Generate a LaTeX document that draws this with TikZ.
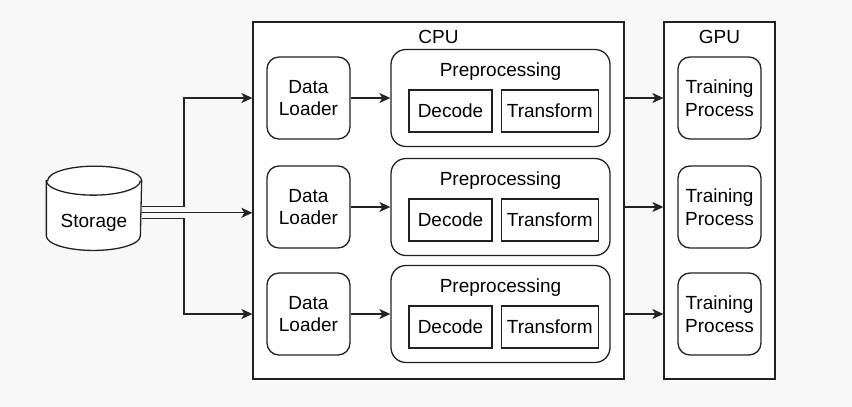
\documentclass[tikz,border=0pt]{standalone}
\usepackage{fontspec}
\setmainfont{Liberation Sans}
\usetikzlibrary{arrows.meta,positioning}
\definecolor{pagebg}{RGB}{248,248,248}
\definecolor{linecol}{RGB}{34,34,34}
\tikzset{>={Stealth[length=11pt,width=10pt,inset=3pt]},
  box/.style={draw=linecol, fill=white, align=center, inner sep=0pt},
  unit/.style={box, rounded corners=12pt, minimum width=83pt, minimum height=82pt},
  stage/.style={box, minimum height=42pt},
  group/.style={box, minimum height=357pt},
  lbl/.style={inner sep=0pt, text height=13.6pt, text depth=0pt},
  cyl/.style={draw=linecol, fill=white}}

\begin{document}
\begin{tikzpicture}[x=1pt, y=-1pt, line width=1.3pt,
    font=\fontsize{19}{22.5}\selectfont]
  \fill[pagebg] (0,0) rectangle (852,407);
  % CPU and GPU
  \node[group, minimum width=371pt] (cpu) at (438.5,200.5) {};
  \node[group, minimum width=111pt] (gpu) at (719.5,200.5) {};
  \node[lbl, below=8pt of cpu.north] (cpulbl) {CPU};
  \node[lbl, below=8pt of gpu.north] (gpulbl) {GPU};
  % rows
  \foreach \r/\y in {1/98,2/207,3/314}{
    \node[unit] (load\r) at (308.5,\y) {Data\\Loader};
    \node[box, rounded corners=15pt, minimum width=219pt,
      minimum height=97pt] (prep\r) at (500.5,\y) {};
    \node[lbl] (preplbl\r) at (500.5,\y-28) {Preprocessing};
    \node[stage, minimum width=83pt] (dec\r) at (450.5,\y+13) {Decode};
    \node[stage, minimum width=97pt, right=8pt of dec\r] (trans\r) {Transform};
    \node[unit] (train\r) at (719.5,\y) {Training\\Process};
    \draw[->, draw=linecol] (load\r) -- (prep\r);
    \draw[->, draw=linecol] (cpu.east |- prep\r) -- (gpu.west |- prep\r);
  }
  % storage
  \node[minimum width=94pt, minimum height=83pt, inner sep=0pt] (store) at (94,208.3) {};
  \draw[cyl] ([yshift=-14.5pt]store.north west) -- ([yshift=14.5pt]store.south west)
    arc[start angle=180, end angle=0, x radius=47, y radius=14.5]
    -- ([yshift=-14.5pt]store.north east)
    arc[start angle=0, end angle=-180, x radius=47, y radius=14.5] -- cycle;
  \draw[linecol] ([yshift=-14.5pt]store.north west)
    arc[start angle=180, end angle=0, x radius=47, y radius=14.5];
  \node[lbl] (storelbl) at (94,221) {Storage};
  \coordinate (split) at (184,208);
  \draw[->, draw=linecol] ([yshift=2pt]store.east) -| (split |- load1) -- (cpu.west |- load1);
  \draw[->, draw=linecol] ([yshift=-4.5pt]store.east) -- ([yshift=-4.5pt]store.east -| cpu.west);
  \draw[->, draw=linecol] ([yshift=-10.5pt]store.east) -| (split |- prep3) -- (cpu.west |- prep3);
\end{tikzpicture}
\end{document}
